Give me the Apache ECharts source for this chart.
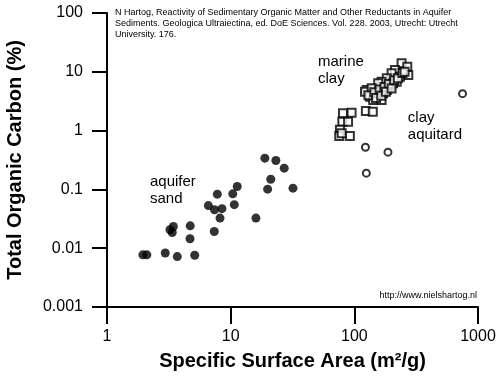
<!DOCTYPE html>
<html>
<head>
<meta charset="utf-8">
<script src="https://cdn.jsdelivr.net/npm/echarts@6/dist/echarts.min.js"></script>
<style>
html,body{margin:0;padding:0;background:#fff;}
#chart{width:500px;height:376px;}
</style>
</head>
<body>
<div id="chart"></div>
<script>
// aquifer sand (filled dots)
var sandSSA = [18.9, 23.2, 27.1, 21.1, 19.9, 31.9, 11.3, 10.4, 7.8, 10.7, 6.6, 7.4, 8.5, 8.2, 16.0,
    3.44, 3.23, 3.37, 4.71, 4.69, 7.37, 1.95, 2.1, 2.96, 3.7, 5.12];
var sandTOC = [0.34, 0.31, 0.23, 0.149, 0.101, 0.105, 0.112, 0.084, 0.083, 0.055, 0.053, 0.045, 0.047, 0.0325, 0.0325,
    0.0234, 0.0206, 0.0185, 0.024, 0.0145, 0.0192, 0.0077, 0.0077, 0.0083, 0.0072, 0.0076];

// marine clay (open squares)
var claySSA = [241, 268, 273, 213, 200, 183, 166, 156, 126, 122, 134, 142, 166, 171, 194, 220, 234, 138, 151, 183, 206,
    130, 145, 160, 175, 190, 210, 225, 245, 255, 150, 165, 180, 200,
    81, 95, 124, 141, 80, 89, 76.5, 75.5, 92, 79];
var clayTOC = [14.0, 12.2, 8.8, 10.7, 9.45, 7.77, 6.8, 6.39, 4.92, 4.6, 3.78, 3.32, 3.32, 4.32, 5.6, 6.8, 8.27, 5.25, 4.32, 4.92, 6.39,
    4.0, 4.5, 5.0, 5.5, 6.2, 7.2, 7.8, 9.5, 10, 3.6, 3.9, 4.6, 5.2,
    1.97, 2.02, 2.16, 2.1, 1.42, 1.42, 1.03, 0.81, 0.81, 0.9];

// clay aquitard (open circles)
var aquitardSSA = [750, 123, 187, 125];
var aquitardTOC = [4.25, 0.52, 0.43, 0.189];

var xTickLabels = {1: '1', 10: '10', 100: '100', 1000: '1000'};
var yTickLabels = ['0.001', '0.01', '0.1', '1', '10', '100'];

function pairs(xs, ys) {
    var out = [];
    for (var i = 0; i < xs.length; i++) out.push([xs[i], ys[i]]);
    return out;
}

var font = 'Liberation Sans, Arial, sans-serif';
var chart = echarts.init(document.getElementById('chart'), null, {renderer: 'canvas'});

var option = {
    animation: false,
    grid: {left: 107, right: 22, top: 13, bottom: 69, outerBoundsMode: 'none'},
    xAxis: {
        type: 'log',
        logBase: 10,
        min: 1,
        max: 1000,
        name: 'Specific Surface Area (m²/g)',
        nameLocation: 'middle',
        nameGap: 44,
        nameTextStyle: {fontFamily: font, fontSize: 20, fontWeight: 'bold', color: '#000'},
        axisLine: {lineStyle: {color: '#000', width: 2}},
        axisTick: {length: 17, lineStyle: {color: '#000', width: 2}},
        minorTick: {show: false},
        splitLine: {show: false},
        axisLabel: {
            margin: 22, fontFamily: font, fontSize: 16, color: '#000',
            formatter: function (v) { return xTickLabels[Math.round(v)] || ''; }
        }
    },
    yAxis: {
        type: 'log',
        logBase: 10,
        min: 0.001,
        max: 100,
        name: 'Total Organic Carbon (%)',
        nameLocation: 'middle',
        nameGap: 82,
        nameTextStyle: {fontFamily: font, fontSize: 20, fontWeight: 'bold', color: '#000'},
        axisLine: {lineStyle: {color: '#000', width: 2}},
        axisTick: {length: 15, lineStyle: {color: '#000', width: 2}},
        splitLine: {show: false},
        axisLabel: {
            margin: 24, fontFamily: font, fontSize: 16, color: '#000',
            formatter: function (v) {
                var k = Math.round(Math.log(v) / Math.LN10) + 3;
                return yTickLabels[k] || '';
            }
        }
    },
    series: [
        {
            name: 'aquifer sand', type: 'scatter', symbol: 'circle', symbolSize: 9,
            itemStyle: {color: '#000'},
            data: pairs(sandSSA, sandTOC)
        },
        {
            name: 'marine clay', type: 'scatter', symbol: 'rect', symbolSize: 8,
            itemStyle: {color: '#fff', borderColor: '#000', borderWidth: 2},
            data: pairs(claySSA, clayTOC)
        },
        {
            name: 'clay aquitard', type: 'scatter', symbol: 'circle', symbolSize: 7,
            itemStyle: {color: '#fff', borderColor: '#000', borderWidth: 2},
            data: pairs(aquitardSSA, aquitardTOC)
        }
    ],
    graphic: [
        {
            type: 'text', left: 115, top: 7,
            style: {
                text: 'N Hartog, Reactivity of Sedimentary Organic Matter and Other Reductants in Aquifer\nSediments. Geologica Ultraiectina, ed. DoE Sciences. Vol. 228. 2003, Utrecht: Utrecht\nUniversity. 176.',
                font: '9px ' + font, fill: '#000', lineHeight: 11
            }
        },
        {
            type: 'text', right: 23, top: 291,
            style: {text: 'http://www.nielshartog.nl', font: '9px ' + font, fill: '#000'}
        },
        {
            type: 'text', left: 318, top: 53,
            style: {text: 'marine\nclay', font: '15px ' + font, fill: '#000', lineHeight: 17}
        },
        {
            type: 'text', left: 150, top: 173,
            style: {text: 'aquifer\nsand', font: '15px ' + font, fill: '#000', lineHeight: 17}
        },
        {
            type: 'text', right: 38, top: 109,
            style: {text: 'clay\naquitard', font: '15px ' + font, fill: '#000', lineHeight: 17, align: 'right'}
        }
    ]
};
chart.setOption(option);
</script>
</body>
</html>
